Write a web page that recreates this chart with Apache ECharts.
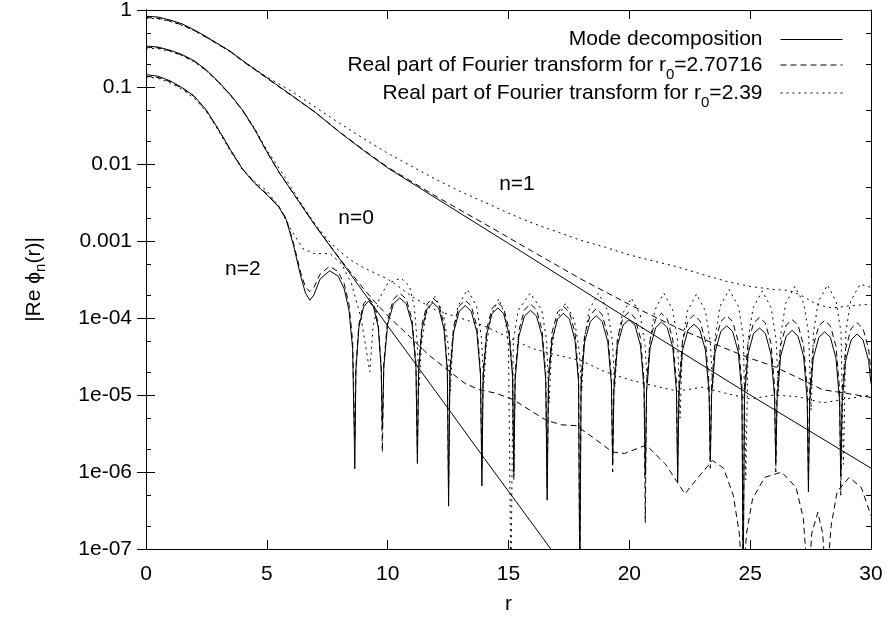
<!DOCTYPE html>
<html>
<head>
<meta charset="utf-8">
<script src="https://cdn.jsdelivr.net/npm/echarts@6/dist/echarts.min.js"></script>
<style>html,body{margin:0;padding:0;background:#fff}#c{width:889px;height:619px}</style>
</head>
<body>
<div id="c"></div>
<script>
// ---------------- data ----------------
const legendNames = ['Mode decomposition', 'Real part of Fourier transform for r0=2.70716', 'Real part of Fourier transform for r0=2.39'];
const yMajor = [1e-7, 1e-6, 1e-5, 1e-4, 1e-3, 1e-2, 1e-1, 1];
const yMinor = [2e-7,5e-7,2e-6,5e-6,2e-5,5e-5,2e-4,5e-4,2e-3,5e-3,2e-2,5e-2,0.2,0.5];
const yTickLabels = ['1e-07','1e-06','1e-05','1e-04','0.001','0.01','0.1','1'];
const curveLabels = ['n=1', 'n=0', 'n=2'];
const curveLabelPos = [[15.35, 5.4e-3], [8.69, 2.0e-3], [4.01, 4.3e-4]];

// n = 1
const n1Mode = [[0,0.83],[0.5,0.81],[1,0.74],[1.5,0.66],[2,0.55],[2.5,0.45],[3,0.36],[3.5,0.29],[4,0.22],[4.5,0.17],[5,0.132],[6,0.079],[7,0.047],[8,0.026],[9,0.015],[10,0.0089],[12,0.0036],[15,9.3e-4],[20,9.5e-5],[25,1.0e-5],[30,1.12e-6]];
const n1FourierA = [[0,0.80],[0.5,0.78],[1,0.72],[1.5,0.64],[2,0.54],[2.5,0.44],[3,0.355],[3.5,0.285],[4,0.216],[4.5,0.168],[5,0.13],[6,0.078],[7,0.047],[8,0.0263],[9,0.0153],[10,0.0091],[12,0.0038],[14,0.00168],[16,7.3e-4],[18,3.2e-4],[20,1.5e-4],[22,7.4e-5],[24,4.0e-5],[25,3.0e-5],[26,2.34e-5],[27,1.66e-5],[28,1.17e-5],[29,1.05e-5],[30,9.3e-6]];
const n1FourierB = [[0,0.78],[0.5,0.77],[1,0.71],[1.5,0.63],[2,0.54],[2.5,0.44],[3,0.36],[3.5,0.285],[4,0.22],[4.5,0.172],[5,0.135],[6,0.089],[7,0.055],[8,0.034],[9,0.0214],[10,0.0138],[11,0.0093],[12,0.0063],[13,0.0044],[14,0.0032],[15,0.0023],[16,0.0017],[17,0.00132],[18,0.00102],[19,8.3e-4],[20,6.6e-4],[21,5.5e-4],[22,4.6e-4],[23,3.7e-4],[24,3.0e-4],[25,2.57e-4],[26,2.34e-4],[26.6,2.29e-4],[27.2,1.9e-4],[27.8,1.48e-4],[28.4,1.35e-4],[29.2,1.45e-4],[30,1.51e-4]];

// n = 0
const n0Mode = [[0,0.34],[0.5,0.33],[1,0.30],[1.5,0.263],[2,0.219],[2.5,0.166],[3,0.117],[3.5,0.079],[4,0.05],[4.5,0.028],[5,0.0145],[5.5,0.0079],[6,0.0046],[7,0.00158],[8,5.9e-4],[10,7.9e-5],[12,1.1e-5],[14,1.5e-6],[16,2.1e-7],[17,7.8e-8]];
const n0FourierA = [[0,0.33],[0.5,0.322],[1,0.295],[1.5,0.258],[2,0.215],[2.5,0.163],[3,0.115],[3.5,0.078],[4,0.049],[4.5,0.028],[5,0.0143],[5.5,0.0078],[6,0.0046],[7,0.0016],[8,6.0e-4],[8.5,3.8e-4],[9,2.4e-4],[9.5,1.58e-4],[10,1.07e-4],[10.5,7.6e-5],[11,5.4e-5],[11.7,3.3e-5],[12.5,2.1e-5],[13.2,1.41e-5],[13.8,1.17e-5],[14.5,1.05e-5],[15.2,8.7e-6],[15.9,6.3e-6],[16.56,4.7e-6],[17.2,4.1e-6],[17.8,4.0e-6],[18.5,2.8e-6],[19.3,1.82e-6],[19.8,1.74e-6],[20.7,2.24e-6],[21.5,1.26e-6],[22.3,5.2e-7],[22.9,8.9e-7],[23.44,1.41e-6],[23.9,1.12e-6],[24.3,5.0e-7],[24.55,1.6e-7],[24.7,3.2e-8],[24.85,1.6e-7],[25.1,4.5e-7],[25.6,8.5e-7],[26.3,1.0e-6],[26.9,6.3e-7],[27.2,2.5e-7],[27.4,3.2e-8],[27.55,1.6e-7],[27.8,3.0e-7],[28.0,1.6e-7],[28.15,3.2e-8],[28.35,2.0e-7],[28.6,5.6e-7],[29.1,8.5e-7],[29.6,6.3e-7],[30,2.7e-7]];
const n0FourierB = [[0,0.32],[0.5,0.315],[1,0.29],[1.5,0.255],[2,0.212],[2.5,0.162],[3,0.115],[3.5,0.078],[4,0.05],[4.5,0.029],[5,0.0151],[5.5,0.0089],[6,0.005],[6.5,0.0028],[7,0.00166],[7.5,0.00105],[8,7.4e-4],[8.5,5.6e-4],[9,4.5e-4],[9.5,3.8e-4],[10,3.2e-4],[10.5,2.5e-4],[11,1.9e-4],[12,1.26e-4],[13,1.0e-4],[14,7.9e-5],[15,5.6e-5],[16,4.0e-5],[17,3.3e-5],[18,2.8e-5],[19,2.0e-5],[20,1.58e-5],[21,1.32e-5],[22,1.12e-5],[23,1.26e-5],[24,1.05e-5],[25,8.9e-6],[26,1.0e-5],[27,9.5e-6],[28,7.9e-6],[29,8.9e-6],[30,1.0e-5]];

// n = 2
const n2Mode = [[0,0.145],[0.5,0.138],[1,0.12],[1.5,0.098],[2,0.076],[2.5,0.05],[3,0.028],[3.5,0.0151],[4,0.0085],[4.5,0.0056],[5,0.004],[5.5,0.00275],[5.8,0.0019],[6.1,8.9e-4],[6.4,3.5e-4],[6.6,2.1e-4],[6.78,1.7e-4],[6.95,2.0e-4],[7.2,3.2e-4],[7.6,4.1e-4],[7.95,3.5e-4],[8.2,2.4e-4],[8.4,1.26e-4],[8.55,4.0e-5],[8.64,1.1e-6],
[8.686,2.1e-5],[8.81,7.6e-5],[9.005,1.4e-4],[9.21,1.66e-4],[9.415,1.4e-4],[9.61,7.6e-5],[9.734,2.1e-5],[9.78,3.6e-6],
[9.84,2.3e-5],[10.0,8.3e-5],[10.24,1.53e-4],[10.5,1.82e-4],[10.77,1.53e-4],[11.01,8.3e-5],[11.17,2.3e-5],[11.23,1.29e-6],
[11.28,2.0e-5],[11.42,7.2e-5],[11.64,1.34e-4],[11.875,1.58e-4],[12.11,1.34e-4],[12.33,7.2e-5],[12.47,2.0e-5],[12.52,3.6e-7],
[12.575,1.82e-5],[12.73,6.6e-5],[12.96,1.22e-4],[13.21,1.45e-4],[13.46,1.22e-4],[13.69,6.6e-5],[13.84,1.82e-5],[13.9,6.6e-7],
[13.95,1.7e-5],[14.1,6.2e-5],[14.32,1.14e-4],[14.56,1.35e-4],[14.8,1.14e-4],[15.02,6.2e-5],[15.17,1.7e-5],[15.22,1.0e-6],
[15.275,1.58e-5],[15.43,5.8e-5],[15.66,1.06e-4],[15.91,1.26e-4],[16.16,1.06e-4],[16.39,5.8e-5],[16.54,1.58e-5],[16.6,4.3e-7],
[16.654,1.45e-5],[16.8,5.2e-5],[17.03,9.7e-5],[17.275,1.15e-4],[17.52,9.7e-5],[17.75,5.2e-5],[17.9,1.45e-5],[17.95,3.2e-8],
[18.004,1.35e-5],[18.15,4.9e-5],[18.385,9.0e-5],[18.63,1.07e-4],[18.875,9.0e-5],[19.11,4.9e-5],[19.26,1.35e-5],[19.31,1.29e-6],
[19.364,1.2e-5],[19.51,4.4e-5],[19.74,8.1e-5],[19.985,9.5e-5],[20.23,8.1e-5],[20.46,4.4e-5],[20.61,1.2e-5],[20.66,9.1e-7],
[20.714,1.12e-5],[20.86,4.1e-5],[21.09,7.5e-5],[21.33,8.9e-5],[21.57,7.5e-5],[21.8,4.1e-5],[21.95,1.12e-5],[22.0,7.4e-7],
[22.054,1.05e-5],[22.2,3.8e-5],[22.43,7.0e-5],[22.675,8.3e-5],[22.92,7.0e-5],[23.15,3.8e-5],[23.3,1.05e-5],[23.35,1.41e-6],
[23.404,1.0e-5],[23.55,3.6e-5],[23.785,6.7e-5],[24.03,7.9e-5],[24.275,6.7e-5],[24.51,3.6e-5],[24.66,1.0e-5],[24.71,3.2e-8],
[24.764,9.3e-6],[24.91,3.4e-5],[25.14,6.3e-5],[25.385,7.4e-5],[25.63,6.3e-5],[25.86,3.4e-5],[26.01,9.3e-6],[26.06,1.35e-6],
[26.114,8.7e-6],[26.26,3.2e-5],[26.49,5.8e-5],[26.735,6.9e-5],[26.98,5.8e-5],[27.21,3.2e-5],[27.36,8.7e-6],[27.41,5.5e-7],
[27.464,8.3e-6],[27.61,3.0e-5],[27.84,5.6e-5],[28.08,6.6e-5],[28.32,5.6e-5],[28.55,3.0e-5],[28.7,8.3e-6],[28.75,8.9e-7],
[28.804,7.8e-6],[28.95,2.8e-5],[29.18,5.2e-5],[29.425,6.2e-5],[29.67,5.2e-5],[29.9,2.8e-5],[30,1.41e-5]];
const n2FourierA = [[0,0.138],[0.5,0.133],[1,0.117],[1.5,0.096],[2,0.075],[2.5,0.049],[3,0.028],[3.5,0.0152],[4,0.0086],[4.5,0.0057],[5,0.0041],[5.5,0.0028],[5.8,0.00195],[6.1,9.5e-4],[6.4,3.9e-4],[6.6,2.5e-4],[6.78,2.2e-4],[6.95,2.5e-4],[7.2,3.7e-4],[7.6,4.7e-4],[7.95,4.0e-4],[8.2,2.8e-4],[8.4,1.5e-4],[8.55,5.0e-5],[8.64,2.7e-6],
[8.686,2.3e-5],[8.81,8.3e-5],[9.005,1.53e-4],[9.21,1.82e-4],[9.415,1.53e-4],[9.61,8.3e-5],[9.734,2.3e-5],[9.78,1.82e-6],
[9.84,2.6e-5],[10.0,9.5e-5],[10.24,1.76e-4],[10.5,2.1e-4],[10.77,1.76e-4],[11.01,9.5e-5],[11.17,2.6e-5],[11.23,1.78e-6],
[11.28,2.3e-5],[11.42,8.3e-5],[11.64,1.53e-4],[11.875,1.82e-4],[12.11,1.53e-4],[12.33,8.3e-5],[12.47,2.3e-5],[12.52,5.0e-7],
[12.575,2.1e-5],[12.73,7.8e-5],[12.96,1.43e-4],[13.21,1.7e-4],[13.46,1.43e-4],[13.69,7.8e-5],[13.84,2.1e-5],[13.9,1.12e-6],
[13.95,2.0e-5],[14.1,7.2e-5],[14.32,1.34e-4],[14.56,1.58e-4],[14.8,1.34e-4],[15.02,7.2e-5],[15.17,2.0e-5],[15.22,7.9e-7],
[15.275,1.9e-5],[15.43,6.9e-5],[15.66,1.28e-4],[15.91,1.51e-4],[16.16,1.28e-4],[16.39,6.9e-5],[16.54,1.9e-5],[16.6,6.3e-7],
[16.654,1.78e-5],[16.8,6.5e-5],[17.03,1.19e-4],[17.275,1.41e-4],[17.52,1.19e-4],[17.75,6.5e-5],[17.9,1.78e-5],[17.95,3.2e-8],
[18.004,1.66e-5],[18.15,6.0e-5],[18.385,1.11e-4],[18.63,1.32e-4],[18.875,1.11e-4],[19.11,6.0e-5],[19.26,1.66e-5],[19.31,1.0e-6],
[19.364,1.51e-5],[19.51,5.5e-5],[19.74,1.01e-4],[19.985,1.2e-4],[20.23,1.01e-4],[20.46,5.5e-5],[20.61,1.51e-5],[20.66,2.2e-7],
[20.714,1.45e-5],[20.86,5.2e-5],[21.09,9.7e-5],[21.33,1.15e-4],[21.57,9.7e-5],[21.8,5.2e-5],[21.95,1.45e-5],[22.0,1.0e-6],
[22.054,1.38e-5],[22.2,5.0e-5],[22.43,9.2e-5],[22.675,1.1e-4],[22.92,9.2e-5],[23.15,5.0e-5],[23.3,1.38e-5],[23.35,1.12e-6],
[23.404,1.35e-5],[23.55,4.9e-5],[23.785,9.0e-5],[24.03,1.07e-4],[24.275,9.0e-5],[24.51,4.9e-5],[24.66,1.35e-5],[24.71,3.2e-8],
[24.764,1.29e-5],[24.91,4.7e-5],[25.14,8.6e-5],[25.385,1.02e-4],[25.63,8.6e-5],[25.86,4.7e-5],[26.01,1.29e-5],[26.06,1.0e-6],
[26.114,1.2e-5],[26.26,4.4e-5],[26.49,8.1e-5],[26.735,9.5e-5],[26.98,8.1e-5],[27.21,4.4e-5],[27.36,1.2e-5],[27.41,7.9e-7],
[27.464,1.17e-5],[27.61,4.3e-5],[27.84,7.9e-5],[28.08,9.3e-5],[28.32,7.9e-5],[28.55,4.3e-5],[28.7,1.17e-5],[28.75,5.0e-7],
[28.804,1.1e-5],[28.95,4.0e-5],[29.18,7.3e-5],[29.425,8.7e-5],[29.67,7.3e-5],[29.9,4.0e-5],[30,2.0e-5]];
const n2FourierB = [[0,0.135],[0.5,0.13],[1,0.113],[1.5,0.093],[2,0.071],[2.5,0.048],[3,0.027],[3.5,0.0145],[4,0.0085],[4.5,0.0059],[5,0.0045],[5.5,0.0028],[6,0.0014],[6.5,7.9e-4],[7,6.8e-4],[7.6,6.9e-4],[8.1,5.0e-4],[8.5,2.8e-4],[8.9,1.0e-4],[9.26,2.0e-5],
[9.4,7.9e-5],[9.65,1.78e-4],[10.0,2.8e-4],[10.55,3.3e-4],[10.9,2.6e-4],[11.1,1.41e-4],[11.22,5.0e-5],[11.3,1.26e-5],
[11.4,4.6e-5],[11.6,1.15e-4],[11.96,1.9e-4],[12.3,1.15e-4],[12.5,4.6e-5],[12.6,1.12e-5],
[12.7,5.6e-5],[12.9,1.41e-4],[13.3,2.34e-4],[13.68,1.41e-4],[13.88,5.6e-5],[13.98,1.41e-5],
[14.08,4.3e-5],[14.28,1.07e-4],[14.6,1.78e-4],[14.85,1.07e-4],[15.0,4.3e-5],[15.1,3.2e-8],
[15.2,5.0e-5],[15.4,1.26e-4],[15.9,2.1e-4],[16.38,1.26e-4],[16.58,5.0e-5],[16.68,7.9e-6],
[16.78,3.7e-5],[16.98,9.3e-5],[17.36,1.55e-4],[17.73,9.3e-5],[17.93,3.7e-5],[18.03,1.12e-5],
[18.13,5.0e-5],[18.33,1.26e-4],[18.72,2.1e-4],[19.1,1.26e-4],[19.3,5.0e-5],[19.4,1.26e-5],
[19.5,4.4e-5],[19.7,1.1e-4],[20.08,1.82e-4],[20.45,1.1e-4],[20.65,4.4e-5],[20.75,1.41e-5],
[20.85,5.0e-5],[21.05,1.26e-4],[21.43,2.1e-4],[21.8,1.26e-4],[22.0,5.0e-5],[22.1,5.0e-6],
[22.2,4.9e-5],[22.4,1.23e-4],[22.78,2.04e-4],[23.15,1.23e-4],[23.35,4.9e-5],[23.45,1.26e-5],
[23.55,5.6e-5],[23.75,1.41e-4],[24.13,2.34e-4],[24.52,1.41e-4],[24.72,5.6e-5],[24.82,7.9e-7],
[24.92,5.4e-5],[25.12,1.35e-4],[25.5,2.24e-4],[25.87,1.35e-4],[26.07,5.4e-5],[26.17,1.12e-5],
[26.27,6.2e-5],[26.47,1.55e-4],[26.85,2.57e-4],[27.22,1.55e-4],[27.42,6.2e-5],[27.52,6.3e-6],
[27.62,6.5e-5],[27.82,1.62e-4],[28.2,2.7e-4],[28.56,1.62e-4],[28.76,6.5e-5],[28.86,1.26e-6],
[28.96,6.6e-5],[29.16,1.66e-4],[29.55,2.75e-4],[30,2.5e-4]];

// ---------------- chart ----------------
const FONT = '"Liberation Sans", Arial, Helvetica, sans-serif';
const FS = 21;
const lineTypes = ['solid', [6, 4], [2, 4]];
const groups = [
  [n1Mode, n1FourierA, n1FourierB],
  [n0Mode, n0FourierA, n0FourierB],
  [n2Mode, n2FourierA, n2FourierB]
];
const series = [];
groups.forEach(g => g.forEach((d, k) => {
  series.push({
    type: 'line', name: legendNames[k], data: d, symbol: 'none', showSymbol: false,
    clip: true, silent: true, smooth: false,
    itemStyle: { color: '#000' },
    lineStyle: { color: '#000', width: 1, type: lineTypes[k] }
  });
}));
series.push({
  type: 'scatter', name: 'labels', symbolSize: 0, silent: true,
  itemStyle: { color: '#000', opacity: 1 },
  data: curveLabelPos.map((p, i) => ({ value: p, name: curveLabels[i] })),
  label: { show: true, position: 'inside', opacity: 1, formatter: p => p.name, color: '#000', fontSize: FS, fontFamily: FONT }
});

const richT = { fontSize: FS, fontFamily: FONT, color: '#000', padding: [6.5, 0, 6.5, 0] };
const richS = { fontSize: 15, fontFamily: FONT, color: '#000', padding: [20, 0, 0, 0] };
function legendText(name) {
  const i = name.indexOf('r0=');
  if (i < 0) return '{t|' + name + '}';
  return '{t|' + name.slice(0, i + 1) + '}{s|0}{t|' + name.slice(i + 2) + '}';
}
const legendTops = [29, 54.5, 82.5];
const legends = legendNames.map((n, i) => ({
  data: [{ name: n, itemStyle: { opacity: 0 } }], right: 46, top: legendTops[i], orient: 'vertical', align: 'right',
  itemWidth: 62, itemHeight: 22, padding: 0, selectedMode: false,
  itemStyle: { opacity: 0 },
  lineStyle: { color: '#000', width: 1 },
  formatter: legendText,
  textStyle: { fontSize: FS, fontFamily: FONT, color: '#000', padding: [0, 13, 0, 0], rich: { t: richT, s: richS } }
}));

function yFmt(v) {
  const e = Math.round(Math.log10(v));
  const idx = yMajor.findIndex(m => Math.round(Math.log10(m)) === e);
  return idx >= 0 ? yTickLabels[idx] : '';
}
const axisLine = { show: true, lineStyle: { color: '#000', width: 1 } };
function yAx(pos, vals, len, labels) {
  return {
    type: 'log', logBase: 10, min: 1e-7, max: 1, position: pos, offset: 0,
    axisLine: axisLine, splitLine: { show: false }, minorTick: { show: false },
    axisTick: { show: true, inside: true, length: len, customValues: vals, lineStyle: { color: '#000', width: 1 } },
    axisLabel: labels ? { show: true, customValues: yMajor, formatter: yFmt, color: '#000', fontSize: FS, fontFamily: FONT, margin: 14 } : { show: false }
  };
}
const yAxes = [yAx('left', yMajor, 9, true), yAx('right', yMajor, 9, false), yAx('left', yMinor, 5, false), yAx('right', yMinor, 5, false)];
yAxes[0].name = '{t||Re }{t|ϕ}{n|n}{t|(r)|}';
yAxes[0].nameLocation = 'middle';
yAxes[0].nameGap = 98;
yAxes[0].nameTextStyle = { fontSize: FS, fontFamily: FONT, color: '#000',
  rich: { t: { fontSize: FS, fontFamily: FONT, color: '#000' }, n: { fontSize: 15, fontFamily: FONT, color: '#000', padding: [12, 0, 0, 0] } } };

function xAx(pos, labels) {
  return {
    type: 'value', min: 0, max: 30, interval: 5, position: pos,
    axisLine: axisLine, splitLine: { show: false },
    axisTick: { show: true, inside: true, length: 9, lineStyle: { color: '#000', width: 1 } },
    axisLabel: labels ? { show: true, color: '#000', fontSize: FS, fontFamily: FONT, margin: 15 } : { show: false }
  };
}
const xAxes = [xAx('bottom', true), xAx('top', false)];
xAxes[0].name = 'r';
xAxes[0].nameLocation = 'middle';
xAxes[0].nameGap = 45;
xAxes[0].nameTextStyle = { fontSize: FS, fontFamily: FONT, color: '#000' };

const chart = echarts.init(document.getElementById('c'), null, { renderer: 'canvas' });
chart.setOption({
  backgroundColor: '#fff',
  animation: false,
  grid: { left: 146, right: 18, top: 10, bottom: 70, containLabel: false, outerBoundsMode: 'none' },
  legend: legends,
  xAxis: xAxes,
  yAxis: yAxes,
  series: series
});
</script>
</body>
</html>
